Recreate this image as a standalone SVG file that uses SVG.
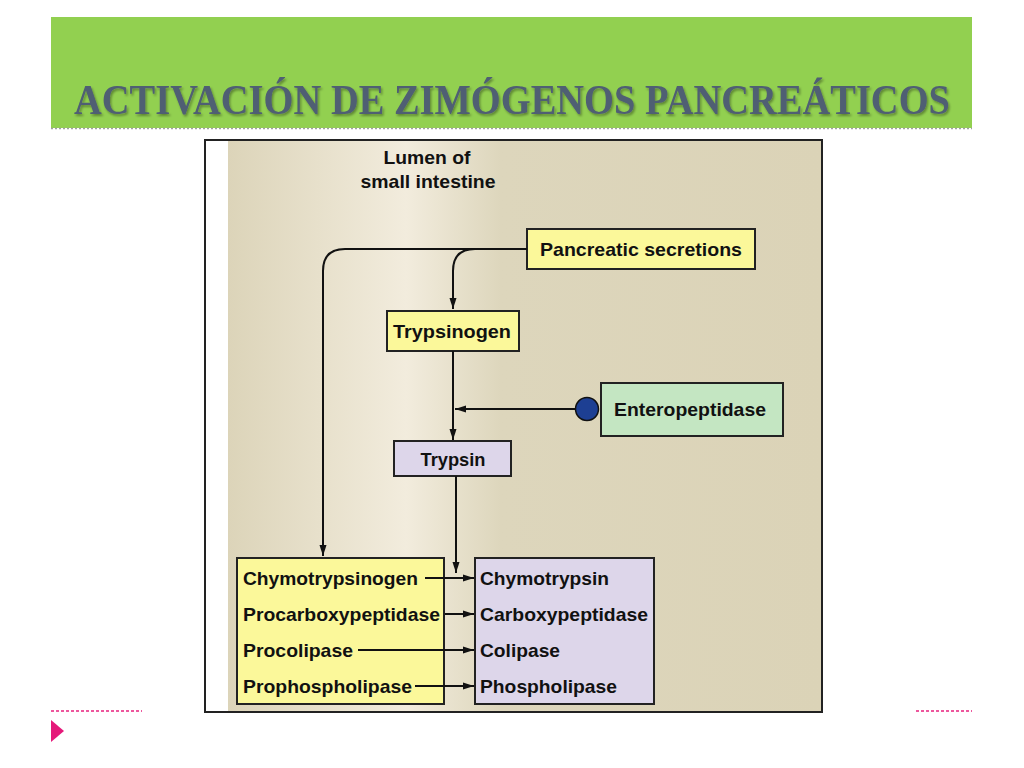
<svg xmlns="http://www.w3.org/2000/svg" width="1024" height="768" viewBox="0 0 1024 768">
<defs>
<linearGradient id="bg" x1="228" y1="0" x2="822" y2="0" gradientUnits="userSpaceOnUse">
<stop offset="0" stop-color="#dcd4b9"/>
<stop offset="0.3" stop-color="#f2ecdd"/>
<stop offset="0.46" stop-color="#ddd6bc"/>
<stop offset="1" stop-color="#dbd3b7"/>
</linearGradient>
<marker id="ah" markerWidth="11" markerHeight="8" refX="11" refY="4" orient="auto" markerUnits="userSpaceOnUse">
<path d="M0,0.5 L11,4 L0,7.5 Z" fill="#111"/>
</marker>
<filter id="sh" x="-10%" y="-40%" width="120%" height="180%">
<feDropShadow dx="1.5" dy="2" stdDeviation="1.2" flood-color="#000" flood-opacity="0.35"/>
</filter>
</defs>
<style>
.lbl{font-family:"Liberation Sans",Arial,sans-serif;font-weight:bold;font-size:19px;fill:#111}
.box{stroke:#222;stroke-width:2}
.yel{fill:#fbf89a}
.pur{fill:#ddd6ea}
.grn{fill:#c4e6c2}
.conn{fill:none;stroke:#111;stroke-width:2}
</style>
<rect x="0" y="0" width="1024" height="768" fill="#fff"/>
<g id="header">
<rect x="51" y="17" width="921" height="111" fill="#92d050"/>
<line x1="51" y1="128.5" x2="972" y2="128.5" stroke="#a0a0a0" stroke-width="1.5" stroke-dasharray="2,2"/>
<g transform="translate(512,114) scale(0.916,1)" filter="url(#sh)">
<text x="0" y="0" text-anchor="middle" font-family="'Liberation Serif',serif" font-weight="bold" font-size="42" fill="#4f5e73">ACTIVACIÓN DE ZIMÓGENOS PANCREÁTICOS</text>
</g>
</g>
<g id="panel">
<rect x="205" y="140" width="617" height="572" fill="#fff" stroke="#222" stroke-width="2"/>
<rect x="228" y="141" width="593" height="570" fill="url(#bg)"/>
<text class="lbl" x="427" y="164" text-anchor="middle" textLength="87" lengthAdjust="spacingAndGlyphs">Lumen of</text>
<text class="lbl" x="428" y="188" text-anchor="middle" textLength="135" lengthAdjust="spacingAndGlyphs">small intestine</text>
</g>
<g id="pancreatic-secretions">
<rect class="box yel" x="527" y="229" width="228" height="40"/>
<text class="lbl" x="641" y="256" text-anchor="middle" textLength="202" lengthAdjust="spacingAndGlyphs">Pancreatic secretions</text>
</g>
<g id="trypsinogen">
<rect class="box yel" x="387" y="311" width="132" height="40"/>
<text class="lbl" x="452" y="338" text-anchor="middle" textLength="118" lengthAdjust="spacingAndGlyphs">Trypsinogen</text>
</g>
<g id="enteropeptidase">
<rect class="box grn" x="601" y="383" width="182" height="53"/>
<text class="lbl" x="690" y="416" text-anchor="middle" textLength="152" lengthAdjust="spacingAndGlyphs">Enteropeptidase</text>
</g>
<g id="trypsin">
<rect class="box pur" x="394" y="441" width="117" height="35"/>
<text class="lbl" x="453" y="466" text-anchor="middle" textLength="65" lengthAdjust="spacingAndGlyphs">Trypsin</text>
</g>
<g id="zymogens">
<rect class="box yel" x="237" y="558" width="207" height="146"/>
<text class="lbl" x="243" y="585" textLength="175" lengthAdjust="spacingAndGlyphs">Chymotrypsinogen</text>
<text class="lbl" x="243" y="621" textLength="197" lengthAdjust="spacingAndGlyphs">Procarboxypeptidase</text>
<text class="lbl" x="243" y="657" textLength="110" lengthAdjust="spacingAndGlyphs">Procolipase</text>
<text class="lbl" x="243" y="693" textLength="169" lengthAdjust="spacingAndGlyphs">Prophospholipase</text>
</g>
<g id="enzymes">
<rect class="box pur" x="475" y="558" width="179" height="146"/>
<text class="lbl" x="480" y="585" textLength="129" lengthAdjust="spacingAndGlyphs">Chymotrypsin</text>
<text class="lbl" x="480" y="621" textLength="168" lengthAdjust="spacingAndGlyphs">Carboxypeptidase</text>
<text class="lbl" x="480" y="657" textLength="80" lengthAdjust="spacingAndGlyphs">Colipase</text>
<text class="lbl" x="480" y="693" textLength="137" lengthAdjust="spacingAndGlyphs">Phospholipase</text>
</g>
<g id="connectors">
<path class="conn" d="M527,249 H345 Q323,249 323,271 V556" marker-end="url(#ah)"/>
<path class="conn" d="M485,249 H475 Q453,249 453,271 V309" marker-end="url(#ah)"/>
<path class="conn" d="M453,351 V440" marker-end="url(#ah)"/>
<path class="conn" d="M577,409 H455" marker-end="url(#ah)"/>
<circle cx="587" cy="409" r="11.5" fill="#1d3f93" stroke="#111" stroke-width="1.5"/>
<path class="conn" d="M456,476 V573" marker-end="url(#ah)"/>
<path class="conn" d="M425,578 H474" marker-end="url(#ah)"/>
<path class="conn" d="M445,614 H474" marker-end="url(#ah)"/>
<path class="conn" d="M358,650 H474" marker-end="url(#ah)"/>
<path class="conn" d="M415,686 H474" marker-end="url(#ah)"/>
</g>
<g id="footer">
<line x1="51" y1="711" x2="142" y2="711" stroke="#e8207e" stroke-width="1.5" stroke-dasharray="3,2"/>
<line x1="916" y1="711" x2="972" y2="711" stroke="#e8207e" stroke-width="1.5" stroke-dasharray="3,2"/>
<polygon points="51,720 64,731 51,742" fill="#e5197a"/>
</g>
</svg>
